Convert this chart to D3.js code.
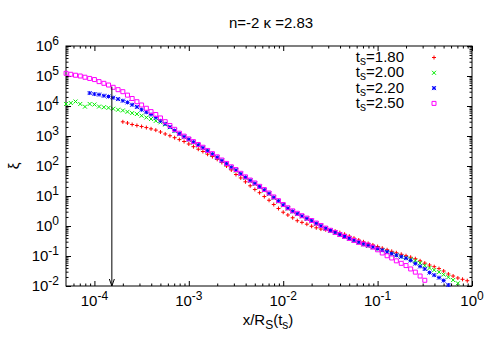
<!DOCTYPE html>
<html>
<head>
<meta charset="utf-8">
<script src="https://cdn.jsdelivr.net/npm/d3@7"></script>
<style>
body { margin: 0; background: #fff; }
text { font-family: "Liberation Sans", Arial, sans-serif; font-size: 15px; fill: #000; }
</style>
</head>
<body>
<svg id="chart" width="500" height="350"></svg>
<script>
// shared x grid, x/R_S(t_s)
var xGrid = [
    5.01e-5, 5.62e-5, 6.31e-5, 7.08e-5, 7.94e-5, 8.91e-5,
    1.00e-4, 1.12e-4, 1.26e-4, 1.41e-4, 1.58e-4, 1.78e-4, 2.00e-4, 2.24e-4, 2.51e-4, 2.82e-4,
    3.16e-4, 3.55e-4, 3.98e-4, 4.47e-4, 5.01e-4, 5.62e-4, 6.31e-4, 7.08e-4, 7.94e-4, 8.91e-4,
    1.00e-3, 1.12e-3, 1.26e-3, 1.41e-3, 1.58e-3, 1.78e-3, 2.00e-3, 2.24e-3, 2.51e-3, 2.82e-3,
    3.16e-3, 3.55e-3, 3.98e-3, 4.47e-3, 5.01e-3, 5.62e-3, 6.31e-3, 7.08e-3, 7.94e-3, 8.91e-3,
    1.00e-2, 1.12e-2, 1.26e-2, 1.41e-2, 1.58e-2, 1.78e-2, 2.00e-2, 2.24e-2, 2.51e-2, 2.82e-2,
    3.16e-2, 3.55e-2, 3.98e-2, 4.47e-2, 5.01e-2, 5.62e-2, 6.31e-2, 7.08e-2, 7.94e-2, 8.91e-2,
    0.100, 0.112, 0.126, 0.141, 0.158, 0.178, 0.200, 0.224, 0.251, 0.282,
    0.316, 0.355, 0.398, 0.447, 0.501, 0.562, 0.631, 0.708, 0.794, 0.891
];

var tsLabels = ["1.80", "2.00", "2.20", "2.50"];

// first grid index of each series
var seriesStart = [12, 0, 5, 0];

var xi180 = [
    2970, 2710, 2420, 2240, 2070, 1910, 1730, 1570, 1360, 1170,
    1020, 878, 759, 656, 541, 440, 363, 304, 247, 207,
    167, 131, 100, 74, 52, 40, 29.7, 21.9, 16.5, 12.9,
    9.6, 7.2, 5.2, 3.83, 2.88, 2.33, 1.88, 1.50, 1.32, 1.15,
    0.98, 0.87, 0.79, 0.75, 0.71, 0.67, 0.60, 0.53, 0.457, 0.392,
    0.341, 0.297, 0.261, 0.233, 0.206, 0.182, 0.161, 0.143, 0.128, 0.114,
    0.102, 0.091, 0.081, 0.069, 0.058, 0.050, 0.044, 0.038, 0.0316, 0.0251,
    0.0215, 0.0185, 0.0167, 0.0150
];

var xi200 = [
    1.17e4, 1.26e4, 1.41e4, 1.17e4, 9.5e3, 1.17e4, 1.12e4, 9.6e3, 9.1e3, 8.7e3,
    8.1e3, 7.5e3, 7.1e3, 6.4e3, 5.8e3, 5.4e3, 4.75e3, 4.14e3, 3.7e3, 3.2e3,
    2.86e3, 2.42e3, 1.95e3, 1.47e3, 1.14e3, 915, 745, 600, 480, 392,
    306, 240, 187, 146, 113, 87, 70, 53, 40, 31.7,
    25.2, 19.5, 15.2, 11.7, 8.6, 6.5, 4.85, 3.77, 3.0, 2.47,
    2.07, 1.71, 1.43, 1.17, 0.98, 0.81, 0.68, 0.59, 0.50, 0.435,
    0.375, 0.325, 0.28, 0.244, 0.217, 0.194, 0.172, 0.152, 0.133, 0.117,
    0.104, 0.094, 0.086, 0.078, 0.069, 0.058, 0.048, 0.040, 0.034, 0.029,
    0.024, 0.0197, 0.0158, 0.0123
];

var xi220 = [
    2.7e4, 2.5e4, 2.4e4, 2.2e4, 2.07e4,
    1.89e4, 1.70e4, 1.50e4, 1.32e4, 1.10e4, 9.3e3, 7.5e3, 6.2e3, 5.2e3, 4.1e3,
    3.2e3, 2.55e3, 2.0e3, 1.52e3, 1.19e3, 955, 776, 626, 501, 407,
    319, 249, 195, 152, 118, 91, 73, 55, 42, 33,
    26.3, 20.3, 15.8, 12.2, 9.0, 6.8, 5.05, 3.92, 3.11, 2.57,
    2.15, 1.78, 1.49, 1.22, 1.02, 0.84, 0.71, 0.61, 0.52, 0.45,
    0.39, 0.336, 0.29, 0.253, 0.224, 0.20, 0.177, 0.156, 0.137, 0.120,
    0.106, 0.095, 0.084, 0.071, 0.056, 0.045, 0.037, 0.028, 0.023, 0.019,
    0.0152, 0.0108
];

var xi250 = [
    1.23e5, 1.14e5, 1.06e5, 1.0e5, 9.1e4, 8.3e4, 7.6e4, 6.5e4, 5.7e4, 5.0e4,
    4.2e4, 3.5e4, 3.0e4, 2.3e4, 1.78e4, 1.39e4, 1.08e4, 8.4e3, 6.5e3, 5.2e3,
    4.0e3, 3.0e3, 2.24e3, 1.67e3, 1.24e3, 990, 800, 650, 520, 422,
    330, 258, 202, 158, 122, 94, 76, 57, 43.5, 34,
    27.2, 21, 16.4, 12.6, 9.3, 7.0, 5.2, 4.05, 3.2, 2.65,
    2.2, 1.83, 1.52, 1.25, 1.04, 0.85, 0.72, 0.61, 0.52, 0.45,
    0.385, 0.33, 0.285, 0.25, 0.233, 0.197, 0.161, 0.126, 0.102, 0.086,
    0.069, 0.057, 0.048, 0.037, 0.029, 0.0215, 0.0155
];

// vertical arrow marking the scale
var arrowX = 1.53e-4, arrowTop = 4.4e4, arrowBottom = 1e-2;

var xExps = [-4, -3, -2, -1, 0];
var yExps = [-2, -1, 0, 1, 2, 3, 4, 5, 6];

var allSeries = [xi180, xi200, xi220, xi250];
var colors = ["#ff0000", "#00ee00", "#0000ff", "#ff00ff"];

var margin = { top: 46, right: 28, bottom: 64, left: 66 },
    width = 500 - margin.left - margin.right,
    height = 350 - margin.top - margin.bottom;

var svg = d3.select("#chart");
var g = svg.append("g")
    .attr("transform", "translate(" + margin.left + "," + margin.top + ")");

var xScale = d3.scaleLog().domain([5e-5, 1]).range([0, width]);
var yScale = d3.scaleLog().domain([1e-2, 1e6]).range([height, 0]);

// minor ticks 2..9 per decade
function minorTicks(scale) {
    var dom = scale.domain(), out = [];
    for (var e = -6; e <= 6; e++) {
        for (var m = 2; m <= 9; m++) {
            var v = m * Math.pow(10, e);
            if (v > dom[0] && v < dom[1]) out.push(v);
        }
    }
    return out;
}

var xMajor = xExps.map(function (e) { return Math.pow(10, e); });
var yMajor = yExps.map(function (e) { return Math.pow(10, e); });

function tickAxis(axis, vals, size) {
    return axis.tickValues(vals).tickSize(size).tickFormat("");
}

var axes = [
    [d3.axisBottom, xScale, "translate(0," + height + ")", xMajor],
    [d3.axisTop, xScale, "translate(0,0)", xMajor],
    [d3.axisLeft, yScale, "translate(0,0)", yMajor],
    [d3.axisRight, yScale, "translate(" + width + ",0)", yMajor]
];
axes.forEach(function (a) {
    g.append("g").attr("transform", a[2]).call(tickAxis(a[0](a[1]), a[3], -5));
    g.append("g").attr("transform", a[2]).call(tickAxis(a[0](a[1]), minorTicks(a[1]), -2.5));
});
g.selectAll(".domain").remove();
g.selectAll(".tick line").attr("stroke", "#000");

g.append("rect")
    .attr("width", width).attr("height", height)
    .attr("fill", "none").attr("stroke", "#000").attr("stroke-width", 1);

// tick labels 10^n
xExps.forEach(function (e) {
    var t = g.append("text")
        .attr("x", xScale(Math.pow(10, e)))
        .attr("y", height + 20)
        .attr("text-anchor", "middle");
    t.append("tspan").text("10");
    t.append("tspan").attr("dy", -6).style("font-size", "12px").text(e);
});
yExps.forEach(function (e) {
    var t = g.append("text")
        .attr("x", -7)
        .attr("y", yScale(Math.pow(10, e)) + 5)
        .attr("text-anchor", "end");
    t.append("tspan").text("10");
    t.append("tspan").attr("dy", -6).style("font-size", "12px").text(e);
});

// markers: + , x , * , open square
function markerPath(i) {
    var s = 2;
    var plus = "M" + (-s) + ",0H" + s + "M0," + (-s) + "V" + s;
    var cross = "M" + (-s) + "," + (-s) + "L" + s + "," + s + "M" + (-s) + "," + s + "L" + s + "," + (-s);
    if (i === 0) return plus;
    if (i === 1) return cross;
    if (i === 2) return plus + cross;
    return "M" + (-s) + "," + (-s) + "H" + s + "V" + s + "H" + (-s) + "Z";
}

var plotArea = g.append("g");
allSeries.forEach(function (vals, i) {
    var pts = vals.map(function (v, j) { return { x: xGrid[seriesStart[i] + j], y: v }; });
    plotArea.selectAll(".s" + i)
        .data(pts)
        .enter().append("path")
        .attr("class", "s" + i)
        .attr("d", markerPath(i))
        .attr("transform", function (d) { return "translate(" + xScale(d.x) + "," + yScale(d.y) + ")"; })
        .attr("fill", "none")
        .attr("stroke", colors[i])
        .attr("stroke-width", 1);
});

// arrow
var ax = xScale(arrowX), ay0 = yScale(arrowTop), ay1 = yScale(arrowBottom);
g.append("line")
    .attr("x1", ax).attr("x2", ax).attr("y1", ay0).attr("y2", ay1)
    .attr("stroke", "#000").attr("stroke-width", 1);
g.append("path")
    .attr("d", "M" + (ax - 2.5) + "," + (ay1 - 7) + "L" + ax + "," + ay1 + "L" + (ax + 2.5) + "," + (ay1 - 7))
    .attr("fill", "none").attr("stroke", "#000").attr("stroke-width", 1);

// legend
tsLabels.forEach(function (lab, i) {
    var ty = 16 + 15.3 * i;
    var t = g.append("text").attr("x", 338).attr("y", ty).attr("text-anchor", "end");
    t.append("tspan").text("t");
    t.append("tspan").attr("dy", 3).style("font-size", "12px").text("s");
    t.append("tspan").attr("dy", -3).text("=" + lab);
    g.append("path")
        .attr("d", markerPath(i))
        .attr("transform", "translate(368," + (ty - 4.5) + ")")
        .attr("fill", "none").attr("stroke", colors[i]).attr("stroke-width", 1);
});

// title and axis labels
svg.append("text").attr("x", 271).attr("y", 28).attr("text-anchor", "middle")
    .text("n=-2 \u03ba =2.83");

var xl = svg.append("text").attr("x", 268).attr("y", 325).attr("text-anchor", "middle");
xl.append("tspan").text("x/R");
xl.append("tspan").attr("dy", 4).style("font-size", "12px").text("S");
xl.append("tspan").attr("dy", -4).text("(t");
xl.append("tspan").attr("dy", 4).style("font-size", "12px").text("s");
xl.append("tspan").attr("dy", -4).text(")");

svg.append("text")
    .attr("transform", "translate(19,166) rotate(-90)")
    .attr("text-anchor", "middle")
    .text("\u03be");
</script>
</body>
</html>
